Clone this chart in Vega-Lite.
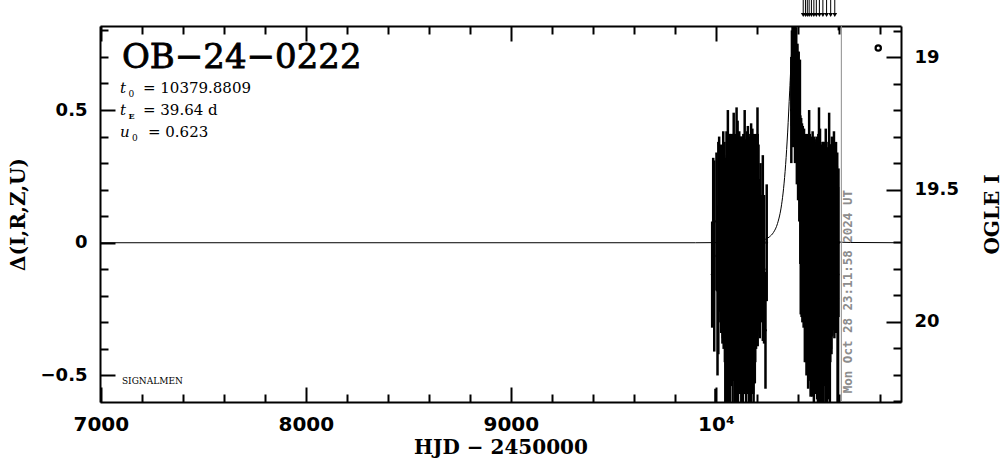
{
  "$schema": "https://vega.github.io/schema/vega-lite/v6.json",
  "width": 801,
  "height": 376,
  "autosize": {"type": "none"},
  "padding": {"left": 100, "top": 26, "right": 103, "bottom": 57},
  "background": "white",
  "config": {
    "view": {"stroke": null},
    "axis": {
      "grid": false,
      "domainColor": "black",
      "domainWidth": 2,
      "tickColor": "black",
      "tickWidth": 2,
      "labelColor": "black",
      "titleColor": "black",
      "labelFont": "DejaVu Sans",
      "labelFontWeight": "bold",
      "labelOverlap": false,
      "labelFlush": false,
      "titleFont": "DejaVu Serif",
      "titleFontWeight": "bold"
    }
  },
  "datasets": {
    "obs": [
      {"t":9982,"m":-0.12,"lo":-0.32,"hi":0.08},
      {"t":9987,"m":0.02,"lo":-0.28,"hi":0.32},
      {"t":9992,"m":-0.05,"lo":-0.41,"hi":0.31},
      {"t":9998,"m":-0.85,"lo":-1.15,"hi":-0.55},
      {"t":10003,"m":0.08,"lo":-0.18,"hi":0.34},
      {"t":10008,"m":-0.18,"lo":-0.50,"hi":0.14},
      {"t":10012,"m":-0.02,"lo":-0.42,"hi":0.38},
      {"t":10016,"m":0.10,"lo":-0.20,"hi":0.40},
      {"t":10020,"m":0.04,"lo":-0.26,"hi":0.34},
      {"t":10022,"m":-0.10,"lo":-0.30,"hi":0.26},
      {"t":10024,"m":0.12,"lo":-0.13,"hi":0.37},
      {"t":10026,"m":-0.22,"lo":-0.34,"hi":0.18},
      {"t":10028,"m":0.00,"lo":-0.33,"hi":0.33},
      {"t":10030,"m":0.07,"lo":-0.21,"hi":0.35},
      {"t":10032,"m":-0.15,"lo":-0.38,"hi":0.27},
      {"t":10034,"m":-0.05,"lo":-0.36,"hi":0.26},
      {"t":10036,"m":0.15,"lo":-0.12,"hi":0.42},
      {"t":10038,"m":-0.28,"lo":-0.40,"hi":0.10},
      {"t":10040,"m":-0.02,"lo":-0.37,"hi":0.33},
      {"t":10042,"m":0.09,"lo":-0.20,"hi":0.38},
      {"t":10044,"m":-0.12,"lo":-0.45,"hi":0.32},
      {"t":10046,"m":-0.30,"lo":-0.62,"hi":0.02},
      {"t":10048,"m":0.05,"lo":-0.21,"hi":0.31},
      {"t":10050,"m":-0.08,"lo":-0.47,"hi":0.31},
      {"t":10052,"m":0.18,"lo":-0.06,"hi":0.42},
      {"t":10054,"m":-0.19,"lo":-0.60,"hi":0.22},
      {"t":10056,"m":0.01,"lo":-0.33,"hi":0.35},
      {"t":10058,"m":-0.25,"lo":-0.62,"hi":0.12},
      {"t":10058.5,"m":0.15,"lo":-0.20,"hi":0.50},
      {"t":10060,"m":0.11,"lo":-0.17,"hi":0.39},
      {"t":10062,"m":-0.04,"lo":-0.47,"hi":0.39},
      {"t":10064,"m":-0.16,"lo":-0.46,"hi":0.14},
      {"t":10066,"m":0.06,"lo":-0.29,"hi":0.41},
      {"t":10068,"m":-0.33,"lo":-0.69,"hi":0.03},
      {"t":10070,"m":0.14,"lo":-0.13,"hi":0.41},
      {"t":10072,"m":-0.09,"lo":-0.49,"hi":0.31},
      {"t":10074,"m":-0.21,"lo":-0.54,"hi":0.12},
      {"t":10076,"m":0.03,"lo":-0.35,"hi":0.41},
      {"t":10078,"m":-0.13,"lo":-0.44,"hi":0.18},
      {"t":10080,"m":0.08,"lo":-0.21,"hi":0.37},
      {"t":10082,"m":-0.27,"lo":-0.64,"hi":0.10},
      {"t":10084,"m":-0.01,"lo":-0.43,"hi":0.41},
      {"t":10086,"m":0.16,"lo":-0.09,"hi":0.41},
      {"t":10087,"m":0.17,"lo":-0.15,"hi":0.49},
      {"t":10088,"m":-0.18,"lo":-0.52,"hi":0.16},
      {"t":10090,"m":-0.07,"lo":-0.52,"hi":0.38},
      {"t":10092,"m":0.10,"lo":-0.20,"hi":0.40},
      {"t":10094,"m":-0.35,"lo":-0.68,"hi":-0.02},
      {"t":10096,"m":0.02,"lo":-0.37,"hi":0.41},
      {"t":10098,"m":-0.11,"lo":-0.47,"hi":0.25},
      {"t":10100,"m":0.13,"lo":-0.14,"hi":0.40},
      {"t":10101,"m":0.18,"lo":-0.15,"hi":0.51},
      {"t":10102,"m":-0.24,"lo":-0.62,"hi":0.14},
      {"t":10104,"m":-0.06,"lo":-0.38,"hi":0.26},
      {"t":10106,"m":0.05,"lo":-0.36,"hi":0.46},
      {"t":10108,"m":-0.30,"lo":-0.65,"hi":0.05},
      {"t":10110,"m":0.17,"lo":-0.07,"hi":0.41},
      {"t":10112,"m":-0.14,"lo":-0.54,"hi":0.26},
      {"t":10114,"m":-0.02,"lo":-0.46,"hi":0.42},
      {"t":10116,"m":0.09,"lo":-0.22,"hi":0.40},
      {"t":10118,"m":-0.20,"lo":-0.57,"hi":0.17},
      {"t":10120,"m":-0.10,"lo":-0.52,"hi":0.32},
      {"t":10122,"m":0.12,"lo":-0.16,"hi":0.40},
      {"t":10124,"m":-0.26,"lo":-0.62,"hi":0.10},
      {"t":10126,"m":0.00,"lo":-0.39,"hi":0.39},
      {"t":10128,"m":0.07,"lo":-0.26,"hi":0.40},
      {"t":10130,"m":-0.17,"lo":-0.60,"hi":0.26},
      {"t":10132,"m":-0.38,"lo":-0.69,"hi":-0.07},
      {"t":10134,"m":0.04,"lo":-0.33,"hi":0.41},
      {"t":10136,"m":0.14,"lo":-0.12,"hi":0.40},
      {"t":10138,"m":-0.08,"lo":-0.48,"hi":0.32},
      {"t":10140,"m":-0.23,"lo":-0.57,"hi":0.11},
      {"t":10140.5,"m":0.20,"lo":-0.10,"hi":0.50},
      {"t":10142,"m":0.06,"lo":-0.24,"hi":0.36},
      {"t":10144,"m":-0.12,"lo":-0.57,"hi":0.33},
      {"t":10146,"m":0.10,"lo":-0.19,"hi":0.39},
      {"t":10148,"m":-0.31,"lo":-0.67,"hi":0.05},
      {"t":10150,"m":-0.03,"lo":-0.44,"hi":0.38},
      {"t":10152,"m":0.15,"lo":-0.12,"hi":0.42},
      {"t":10154,"m":-0.19,"lo":-0.57,"hi":0.19},
      {"t":10156,"m":0.02,"lo":-0.40,"hi":0.44},
      {"t":10158,"m":-0.09,"lo":-0.44,"hi":0.26},
      {"t":10160,"m":0.11,"lo":-0.19,"hi":0.41},
      {"t":10162,"m":-0.28,"lo":-0.65,"hi":0.09},
      {"t":10164,"m":-0.05,"lo":-0.48,"hi":0.38},
      {"t":10166,"m":0.08,"lo":-0.24,"hi":0.40},
      {"t":10168,"m":-0.15,"lo":-0.54,"hi":0.24},
      {"t":10170,"m":-0.34,"lo":-0.67,"hi":-0.01},
      {"t":10172,"m":0.05,"lo":-0.35,"hi":0.45},
      {"t":10174,"m":0.13,"lo":-0.15,"hi":0.41},
      {"t":10176,"m":-0.21,"lo":-0.57,"hi":0.15},
      {"t":10178,"m":-0.01,"lo":-0.45,"hi":0.43},
      {"t":10180,"m":0.09,"lo":-0.20,"hi":0.38},
      {"t":10182,"m":-0.16,"lo":-0.57,"hi":0.25},
      {"t":10184,"m":-0.27,"lo":-0.62,"hi":0.08},
      {"t":10186,"m":0.03,"lo":-0.35,"hi":0.41},
      {"t":10188,"m":0.12,"lo":-0.15,"hi":0.39},
      {"t":10190,"m":-0.11,"lo":-0.53,"hi":0.31},
      {"t":10192,"m":-0.22,"lo":-0.45,"hi":0.12},
      {"t":10194,"m":0.06,"lo":-0.25,"hi":0.37},
      {"t":10196,"m":-0.04,"lo":-0.40,"hi":0.41},
      {"t":10198,"m":-0.18,"lo":-0.38,"hi":0.19},
      {"t":10200,"m":0.10,"lo":-0.18,"hi":0.38},
      {"t":10202,"m":-0.30,"lo":-0.35,"hi":0.06},
      {"t":10203,"m":0.19,"lo":-0.13,"hi":0.51},
      {"t":10204,"m":0.01,"lo":-0.39,"hi":0.41},
      {"t":10206,"m":-0.14,"lo":-0.30,"hi":0.19},
      {"t":10208,"m":0.07,"lo":-0.23,"hi":0.37},
      {"t":10210,"m":-0.20,"lo":-0.33,"hi":0.18},
      {"t":10214,"m":-0.06,"lo":-0.36,"hi":0.24},
      {"t":10218,"m":0.05,"lo":-0.20,"hi":0.30},
      {"t":10223,"m":-0.20,"lo":-0.30,"hi":0.18},
      {"t":10229,"m":-0.02,"lo":-0.37,"hi":0.33},
      {"t":10235,"m":-0.10,"lo":-0.38,"hi":0.18},
      {"t":10242,"m":-0.33,"lo":-0.55,"hi":-0.11},
      {"t":10248,"m":0.00,"lo":-0.22,"hi":0.22},
      {"t":10368,"m":0.50,"lo":0.30,"hi":0.70},
      {"t":10371,"m":0.62,"lo":0.44,"hi":0.80},
      {"t":10374,"m":0.70,"lo":0.54,"hi":0.86},
      {"t":10377,"m":0.58,"lo":0.36,"hi":0.80},
      {"t":10380,"m":0.75,"lo":0.60,"hi":0.90},
      {"t":10383,"m":0.66,"lo":0.46,"hi":0.86},
      {"t":10386,"m":0.55,"lo":0.30,"hi":0.80},
      {"t":10389,"m":0.72,"lo":0.58,"hi":0.86},
      {"t":10392,"m":0.60,"lo":0.39,"hi":0.81},
      {"t":10395,"m":0.48,"lo":0.22,"hi":0.74},
      {"t":10398,"m":0.57,"lo":0.39,"hi":0.75},
      {"t":10401,"m":0.44,"lo":0.16,"hi":0.72},
      {"t":10404,"m":0.52,"lo":0.32,"hi":0.72},
      {"t":10407,"m":0.38,"lo":0.08,"hi":0.68},
      {"t":10410,"m":0.45,"lo":0.21,"hi":0.69},
      {"t":10412,"m":0.20,"lo":-0.08,"hi":0.48},
      {"t":10414,"m":0.08,"lo":-0.27,"hi":0.43},
      {"t":10416,"m":0.25,"lo":0.03,"hi":0.47},
      {"t":10418,"m":0.02,"lo":-0.28,"hi":0.40},
      {"t":10420,"m":0.15,"lo":-0.15,"hi":0.45},
      {"t":10422,"m":-0.05,"lo":-0.30,"hi":0.35},
      {"t":10424,"m":0.18,"lo":-0.08,"hi":0.44},
      {"t":10426,"m":0.06,"lo":-0.27,"hi":0.39},
      {"t":10428,"m":-0.10,"lo":-0.32,"hi":0.32},
      {"t":10430,"m":0.12,"lo":-0.19,"hi":0.43},
      {"t":10432,"m":0.00,"lo":-0.30,"hi":0.36},
      {"t":10434,"m":-0.15,"lo":-0.45,"hi":0.29},
      {"t":10436,"m":0.09,"lo":-0.20,"hi":0.38},
      {"t":10438,"m":-0.06,"lo":-0.45,"hi":0.33},
      {"t":10440,"m":0.14,"lo":-0.13,"hi":0.41},
      {"t":10442,"m":-0.20,"lo":-0.50,"hi":0.21},
      {"t":10444,"m":0.04,"lo":-0.30,"hi":0.38},
      {"t":10446,"m":-0.09,"lo":-0.46,"hi":0.28},
      {"t":10448,"m":0.11,"lo":-0.19,"hi":0.41},
      {"t":10450,"m":-0.25,"lo":-0.55,"hi":0.18},
      {"t":10452,"m":-0.02,"lo":-0.40,"hi":0.36},
      {"t":10454,"m":0.07,"lo":-0.25,"hi":0.39},
      {"t":10455,"m":0.20,"lo":-0.10,"hi":0.50},
      {"t":10456,"m":-0.17,"lo":-0.52,"hi":0.28},
      {"t":10458,"m":0.13,"lo":-0.15,"hi":0.41},
      {"t":10460,"m":-0.08,"lo":-0.48,"hi":0.32},
      {"t":10462,"m":-0.29,"lo":-0.58,"hi":0.06},
      {"t":10464,"m":0.05,"lo":-0.28,"hi":0.38},
      {"t":10466,"m":-0.12,"lo":-0.54,"hi":0.30},
      {"t":10468,"m":0.10,"lo":-0.20,"hi":0.40},
      {"t":10470,"m":-0.21,"lo":-0.58,"hi":0.16},
      {"t":10472,"m":0.01,"lo":-0.40,"hi":0.42},
      {"t":10474,"m":-0.14,"lo":-0.50,"hi":0.22},
      {"t":10476,"m":0.08,"lo":-0.21,"hi":0.37},
      {"t":10478,"m":-0.33,"lo":-0.62,"hi":0.06},
      {"t":10480,"m":-0.04,"lo":-0.48,"hi":0.40},
      {"t":10482,"m":0.12,"lo":-0.15,"hi":0.39},
      {"t":10484,"m":-0.19,"lo":-0.57,"hi":0.19},
      {"t":10486,"m":0.03,"lo":-0.31,"hi":0.37},
      {"t":10488,"m":-0.26,"lo":-0.56,"hi":0.14},
      {"t":10490,"m":-0.07,"lo":-0.52,"hi":0.38},
      {"t":10492,"m":0.09,"lo":-0.22,"hi":0.40},
      {"t":10494,"m":-0.16,"lo":-0.59,"hi":0.27},
      {"t":10496,"m":-0.01,"lo":-0.38,"hi":0.36},
      {"t":10498,"m":-0.31,"lo":-0.60,"hi":0.02},
      {"t":10500,"m":0.06,"lo":-0.29,"hi":0.41},
      {"t":10502,"m":-0.11,"lo":-0.53,"hi":0.31},
      {"t":10503,"m":0.22,"lo":-0.07,"hi":0.51},
      {"t":10504,"m":0.14,"lo":-0.14,"hi":0.42},
      {"t":10506,"m":-0.23,"lo":-0.62,"hi":0.16},
      {"t":10508,"m":-0.03,"lo":-0.49,"hi":0.43},
      {"t":10510,"m":0.04,"lo":-0.28,"hi":0.36},
      {"t":10512,"m":-0.18,"lo":-0.58,"hi":0.22},
      {"t":10514,"m":-0.37,"lo":-0.71,"hi":-0.03},
      {"t":10516,"m":0.07,"lo":-0.23,"hi":0.37},
      {"t":10518,"m":-0.10,"lo":-0.54,"hi":0.34},
      {"t":10520,"m":0.11,"lo":-0.16,"hi":0.38},
      {"t":10522,"m":-0.27,"lo":-0.65,"hi":0.11},
      {"t":10524,"m":-0.05,"lo":-0.48,"hi":0.38},
      {"t":10526,"m":0.02,"lo":-0.34,"hi":0.38},
      {"t":10528,"m":-0.20,"lo":-0.51,"hi":0.11},
      {"t":10530,"m":-0.13,"lo":-0.54,"hi":0.28},
      {"t":10532,"m":0.08,"lo":-0.21,"hi":0.37},
      {"t":10534,"m":-0.30,"lo":-0.67,"hi":0.07},
      {"t":10536,"m":-0.02,"lo":-0.47,"hi":0.43},
      {"t":10538,"m":0.05,"lo":-0.28,"hi":0.38},
      {"t":10540,"m":-0.16,"lo":-0.56,"hi":0.24},
      {"t":10542,"m":-0.40,"lo":-0.70,"hi":-0.10},
      {"t":10544,"m":0.10,"lo":-0.16,"hi":0.36},
      {"t":10546,"m":-0.08,"lo":-0.50,"hi":0.34},
      {"t":10548,"m":-0.24,"lo":-0.59,"hi":0.11},
      {"t":10550,"m":0.00,"lo":-0.38,"hi":0.38},
      {"t":10552,"m":-0.12,"lo":-0.56,"hi":0.32},
      {"t":10552.5,"m":0.18,"lo":-0.13,"hi":0.49},
      {"t":10554,"m":0.06,"lo":-0.25,"hi":0.37},
      {"t":10556,"m":-0.28,"lo":-0.64,"hi":0.08},
      {"t":10558,"m":-0.04,"lo":-0.45,"hi":0.37},
      {"t":10560,"m":0.09,"lo":-0.19,"hi":0.37},
      {"t":10562,"m":-0.19,"lo":-0.40,"hi":0.20},
      {"t":10564,"m":-0.35,"lo":-0.42,"hi":-0.02},
      {"t":10566,"m":0.03,"lo":-0.34,"hi":0.40},
      {"t":10568,"m":-0.10,"lo":-0.35,"hi":0.35},
      {"t":10570,"m":-0.22,"lo":-0.30,"hi":0.08},
      {"t":10572,"m":0.05,"lo":-0.27,"hi":0.37},
      {"t":10574,"m":-0.15,"lo":-0.33,"hi":0.25},
      {"t":10576,"m":-0.01,"lo":-0.30,"hi":0.42},
      {"t":10578,"m":-0.26,"lo":-0.36,"hi":0.08},
      {"t":10580,"m":0.07,"lo":-0.20,"hi":0.34},
      {"t":10582,"m":-0.09,"lo":-0.28,"hi":0.29},
      {"t":10584,"m":-0.25,"lo":-0.30,"hi":-0.01},
      {"t":10586,"m":0.02,"lo":-0.34,"hi":0.38},
      {"t":10588,"m":-0.17,"lo":-0.25,"hi":0.25},
      {"t":10590,"m":-0.06,"lo":-0.22,"hi":0.29},
      {"t":10592,"m":0.04,"lo":-0.26,"hi":0.34},
      {"t":10594,"m":-0.21,"lo":-0.62,"hi":0.17},
      {"t":10596,"m":-0.12,"lo":-0.60,"hi":0.21},
      {"t":10598,"m":0.00,"lo":-0.28,"hi":0.28},
      {"t":10600,"m":0.95,"lo":0.80,"hi":1.10}
    ],
    "model": [
      {"t":6996,"m":0},
      {"t":9900,"m":0},
      {"t":10102.4,"m":0.001},
      {"t":10181.7,"m":0.0038},
      {"t":10221.3,"m":0.0084},
      {"t":10260.96,"m":0.022},
      {"t":10280.8,"m":0.0387},
      {"t":10300.6,"m":0.0722},
      {"t":10320.4,"m":0.143},
      {"t":10330.3,"m":0.205},
      {"t":10340.2,"m":0.294},
      {"t":10350.15,"m":0.417},
      {"t":10360.06,"m":0.572},
      {"t":10369.97,"m":0.7248},
      {"t":10374.9,"m":0.776},
      {"t":10379.88,"m":0.7946},
      {"t":10384.8,"m":0.776},
      {"t":10389.79,"m":0.7248},
      {"t":10399.7,"m":0.572},
      {"t":10409.6,"m":0.417},
      {"t":10419.5,"m":0.294},
      {"t":10429.4,"m":0.205},
      {"t":10439.3,"m":0.143},
      {"t":10459.2,"m":0.0722},
      {"t":10479,"m":0.0387},
      {"t":10498.8,"m":0.022},
      {"t":10538.4,"m":0.0084},
      {"t":10578.1,"m":0.0038},
      {"t":10657.4,"m":0.001},
      {"t":10903,"m":0}
    ],
    "arrows": [
      {"t":10426},{"t":10437},{"t":10446},{"t":10455},{"t":10466},{"t":10478},
      {"t":10490},{"t":10505},{"t":10522},{"t":10540},{"t":10560},{"t":10580}
    ]
  },
  "layer": [
    {
      "layer": [
        {
          "data": {"name": "obs"},
          "mark": {"type": "rule", "clip": true, "color": "black", "strokeWidth": 2.5},
          "encoding": {
            "x": {
              "field": "t", "type": "quantitative",
              "scale": {"domain": [6996, 10903], "nice": false, "zero": false},
              "axis": {
                "orient": "bottom",
                "values": [7000, 8000, 9000, 10000],
                "format": "d",
                "labelExpr": "datum.value === 10000 ? '10⁴' : datum.label",
                "labelFontSize": 20,
                "labelPadding": 27,
                "tickSize": -15,
                "title": "HJD − 2450000",
                "titleFontSize": 20,
                "titlePadding": 3
              }
            },
            "y": {
              "field": "lo", "type": "quantitative",
              "scale": {"domain": [-0.6, 0.8166], "nice": false, "zero": false},
              "axis": {
                "orient": "left",
                "values": [-0.5, 0, 0.5],
                "labelExpr": "datum.value === 0.5 ? '0.5' : (datum.value === 0 ? '0' : '−0.5')",
                "labelFontSize": 18,
                "labelPadding": 28,
                "tickSize": -15,
                "title": "Δ(I,R,Z,U)",
                "titleFontSize": 20,
                "titlePadding": 12
              }
            },
            "y2": {"field": "hi"}
          }
        },
        {
          "data": {"name": "obs"},
          "mark": {"type": "circle", "clip": true, "color": "black", "size": 8, "opacity": 1},
          "encoding": {
            "x": {"field": "t", "type": "quantitative"},
            "y": {"field": "m", "type": "quantitative"}
          }
        },
        {
          "data": {"name": "model"},
          "mark": {"type": "line", "clip": true, "color": "black", "strokeWidth": 1, "interpolate": "monotone"},
          "encoding": {
            "x": {"field": "t", "type": "quantitative"},
            "y": {"field": "m", "type": "quantitative"}
          }
        },
        {
          "data": {"values": [{}]},
          "mark": {"type": "rule", "color": "#8c8c8c", "strokeWidth": 1},
          "encoding": {"x": {"datum": 10612, "type": "quantitative"}}
        },
        {
          "data": {"values": [{}]},
          "mark": {"type": "text", "text": "Mon Oct 28 23:11:58 2024 UT", "font": "DejaVu Sans Mono", "fontWeight": "bold", "fontSize": 12.5, "color": "#8c8c8c", "angle": 270, "align": "left", "baseline": "middle"},
          "encoding": {"x": {"datum": 10644, "type": "quantitative"}, "y": {"datum": -0.567, "type": "quantitative"}}
        },
        {
          "data": {"values": [{}]},
          "mark": {"type": "text", "text": "OB−24−0222", "font": "DejaVu Serif", "fontSize": 34, "color": "black", "stroke": "black", "strokeWidth": 0.8, "align": "left", "baseline": "alphabetic"},
          "encoding": {"x": {"datum": 7103, "type": "quantitative"}, "y": {"datum": 0.657, "type": "quantitative"}}
        },
        {
          "data": {"values": [{}]},
          "mark": {"type": "text", "text": "t", "font": "DejaVu Serif", "fontStyle": "italic", "fontSize": 15, "color": "black", "align": "left", "baseline": "alphabetic"},
          "encoding": {"x": {"datum": 7093.6, "type": "quantitative"}, "y": {"datum": 0.563, "type": "quantitative"}}
        },
        {
          "data": {"values": [{}]},
          "mark": {"type": "text", "text": "0", "font": "DejaVu Serif", "fontSize": 9, "color": "black", "align": "left", "baseline": "alphabetic"},
          "encoding": {"x": {"datum": 7135, "type": "quantitative"}, "y": {"datum": 0.549, "type": "quantitative"}}
        },
        {
          "data": {"values": [{}]},
          "mark": {"type": "text", "text": "= 10379.8809", "font": "DejaVu Serif", "fontSize": 15, "color": "black", "align": "left", "baseline": "alphabetic"},
          "encoding": {"x": {"datum": 7205.7, "type": "quantitative"}, "y": {"datum": 0.563, "type": "quantitative"}}
        },
        {
          "data": {"values": [{}]},
          "mark": {"type": "text", "text": "t", "font": "DejaVu Serif", "fontStyle": "italic", "fontSize": 15, "color": "black", "align": "left", "baseline": "alphabetic"},
          "encoding": {"x": {"datum": 7093.6, "type": "quantitative"}, "y": {"datum": 0.481, "type": "quantitative"}}
        },
        {
          "data": {"values": [{}]},
          "mark": {"type": "text", "text": "E", "font": "DejaVu Serif", "fontWeight": "bold", "fontSize": 8, "color": "black", "align": "left", "baseline": "alphabetic"},
          "encoding": {"x": {"datum": 7135, "type": "quantitative"}, "y": {"datum": 0.468, "type": "quantitative"}}
        },
        {
          "data": {"values": [{}]},
          "mark": {"type": "text", "text": "= 39.64 d", "font": "DejaVu Serif", "fontSize": 15, "color": "black", "align": "left", "baseline": "alphabetic"},
          "encoding": {"x": {"datum": 7205.7, "type": "quantitative"}, "y": {"datum": 0.481, "type": "quantitative"}}
        },
        {
          "data": {"values": [{}]},
          "mark": {"type": "text", "text": "u", "font": "DejaVu Serif", "fontStyle": "italic", "fontSize": 15, "color": "black", "align": "left", "baseline": "alphabetic"},
          "encoding": {"x": {"datum": 7093.6, "type": "quantitative"}, "y": {"datum": 0.397, "type": "quantitative"}}
        },
        {
          "data": {"values": [{}]},
          "mark": {"type": "text", "text": "0", "font": "DejaVu Serif", "fontSize": 9, "color": "black", "align": "left", "baseline": "alphabetic"},
          "encoding": {"x": {"datum": 7152, "type": "quantitative"}, "y": {"datum": 0.383, "type": "quantitative"}}
        },
        {
          "data": {"values": [{}]},
          "mark": {"type": "text", "text": "= 0.623", "font": "DejaVu Serif", "fontSize": 15, "color": "black", "align": "left", "baseline": "alphabetic"},
          "encoding": {"x": {"datum": 7230, "type": "quantitative"}, "y": {"datum": 0.397, "type": "quantitative"}}
        },
        {
          "data": {"values": [{}]},
          "mark": {"type": "text", "text": "SIGNALMEN", "font": "DejaVu Serif", "fontSize": 9, "color": "black", "align": "left", "baseline": "alphabetic"},
          "encoding": {"x": {"datum": 7103, "type": "quantitative"}, "y": {"datum": -0.532, "type": "quantitative"}}
        },
        {
          "data": {"values": [{}]},
          "mark": {"type": "point", "shape": "circle", "filled": false, "color": "black", "strokeWidth": 2.2, "size": 28, "opacity": 1},
          "encoding": {"x": {"datum": 10792, "type": "quantitative"}, "y": {"datum": 0.734, "type": "quantitative"}}
        },
        {
          "data": {"name": "arrows"},
          "mark": {"type": "rule", "color": "black", "strokeWidth": 1},
          "encoding": {
            "x": {"field": "t", "type": "quantitative"},
            "y": {"datum": 0.916, "type": "quantitative"},
            "y2": {"datum": 0.862}
          }
        },
        {
          "data": {"name": "arrows"},
          "mark": {"type": "point", "shape": "triangle-down", "filled": true, "color": "black", "size": 22, "opacity": 1},
          "encoding": {
            "x": {"field": "t", "type": "quantitative"},
            "y": {"datum": 0.858, "type": "quantitative"}
          }
        }
      ]
    },
    {
      "data": {"values": [{}]},
      "mark": {"type": "point", "opacity": 0},
      "encoding": {
        "y": {
          "datum": 19.5, "type": "quantitative",
          "scale": {"domain": [18.8816, 20.3037], "reverse": true, "nice": false, "zero": false},
          "axis": {
            "orient": "right",
            "values": [19, 19.5, 20],
            "format": "~g",
            "labelFontSize": 18,
            "labelPadding": 28,
            "tickSize": -15,
            "title": "OGLE I",
            "titleAngle": 270,
            "titleBaseline": "top",
            "titleFontSize": 20,
            "titlePadding": 24
          }
        }
      }
    },
    {
      "data": {"values": [{}]},
      "mark": {"type": "point", "opacity": 0},
      "encoding": {
        "x": {
          "datum": 8000, "type": "quantitative",
          "scale": {"domain": [6996, 10903], "nice": false, "zero": false},
          "axis": {"orient": "top", "values": [7000, 8000, 9000, 10000], "labels": false, "title": null, "tickSize": -15}
        }
      }
    },
    {
      "data": {"values": [{}]},
      "mark": {"type": "point", "opacity": 0},
      "encoding": {
        "y": {
          "datum": 0, "type": "quantitative",
          "scale": {"domain": [-0.6, 0.8166], "nice": false, "zero": false},
          "axis": {"orient": "left", "values": [-0.4,-0.3,-0.2,-0.1,0.1,0.2,0.3,0.4,0.6,0.7,0.8], "labels": false, "domain": false, "title": null, "tickSize": -8, "offset": 0}
        }
      }
    },
    {
      "data": {"values": [{}]},
      "mark": {"type": "point", "opacity": 0},
      "encoding": {
        "y": {
          "datum": 19.5, "type": "quantitative",
          "scale": {"domain": [18.8816, 20.3037], "reverse": true, "nice": false, "zero": false},
          "axis": {"orient": "right", "values": [18.9,19.1,19.2,19.3,19.4,19.6,19.7,19.8,19.9,20.1,20.2,20.3], "labels": false, "domain": false, "title": null, "tickSize": -8, "offset": 0}
        }
      }
    },
    {
      "data": {"values": [{}]},
      "mark": {"type": "point", "opacity": 0},
      "encoding": {
        "x": {
          "datum": 8000, "type": "quantitative",
          "scale": {"domain": [6996, 10903], "nice": false, "zero": false},
          "axis": {"orient": "bottom", "values": [7200,7400,7600,7800,8200,8400,8600,8800,9200,9400,9600,9800,10200,10400,10600,10800], "labels": false, "domain": false, "title": null, "tickSize": -8, "offset": 0}
        }
      }
    },
    {
      "data": {"values": [{}]},
      "mark": {"type": "point", "opacity": 0},
      "encoding": {
        "x": {
          "datum": 8000, "type": "quantitative",
          "scale": {"domain": [6996, 10903], "nice": false, "zero": false},
          "axis": {"orient": "top", "values": [7200,7400,7600,7800,8200,8400,8600,8800,9200,9400,9600,9800,10200,10400,10600,10800], "labels": false, "domain": false, "title": null, "tickSize": -8, "offset": 0}
        }
      }
    }
  ],
  "resolve": {"scale": {"x": "independent", "y": "independent"}}
}
